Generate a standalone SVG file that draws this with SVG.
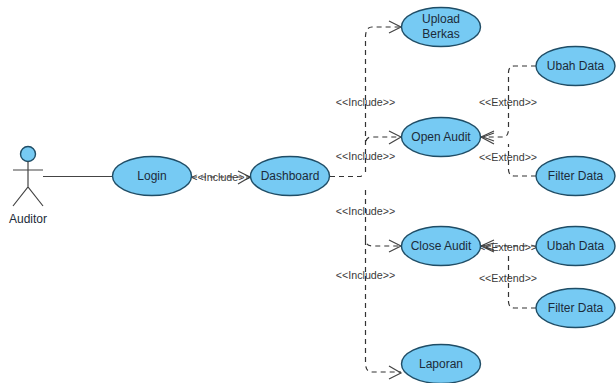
<svg xmlns="http://www.w3.org/2000/svg" width="616" height="383" viewBox="0 0 616 383">
<style>
text{font-family:"Liberation Sans",Arial,sans-serif;text-anchor:middle}
.n{font-size:12px;fill:#1c2b3a}
.l{font-size:10.700px;fill:#3a3a3a}
ellipse,.h{fill:#76caf3;stroke:#1f4d66;stroke-width:1.4}
.d{fill:none;stroke:#333;stroke-width:1.2;stroke-dasharray:5 4}
.a{fill:none;stroke:#444;stroke-width:1.2}
.s{fill:none;stroke:#444;stroke-width:1.2}
</style>
<g id="connectors">
<path class="s" d="M43 176.500H113"/>
<path class="d" d="M192 177H250"/><path class="a" d="M238 171L250 177L238 184"/>
<path class="d" d="M330 176.500H361L363 174"/>
<path class="d" d="M365.500 172V36Q366 27 372 27H401"/><path class="a" d="M389 21L401 27L389 33"/>
<path class="d" d="M366 141Q367 137 372 137H401"/><path class="a" d="M389 131L401 137L389 144"/>
<path class="d" d="M365.500 190V240Q366 246 372 246H401"/><path class="a" d="M389 240L401 246L389 252"/>
<path class="d" d="M365.500 240V364Q366 372 372 372H401"/><path class="a" d="M389 366L401 373L389 379"/>
<path class="d" d="M536 66H514Q509 66 508.500 72V130Q508 137 503 137H481"/><path class="a" d="M494 131L481 137L494 144"/>
<path class="d" d="M536 176H514Q509 176 508.500 170V144"/>
<path class="a" d="M494 133L483 137L494 141"/>
<path class="d" d="M536 246H481"/><path class="a" d="M494 240L481 246L494 252"/>
<path class="a" d="M494 243L483 246L494 250"/>
<path class="d" d="M536 308H514Q509 308 508.500 302V254"/>
<text class="l" x="365.500" y="106">&lt;&lt;Include&gt;&gt;</text>
<text class="l" x="365.500" y="160">&lt;&lt;Include&gt;&gt;</text>
<text class="l" x="365.500" y="215">&lt;&lt;Include&gt;&gt;</text>
<text class="l" x="365.500" y="279">&lt;&lt;Include&gt;&gt;</text>
<text class="l" x="221" y="181">&lt;&lt;Include&gt;&gt;</text>
<text class="l" x="508" y="106">&lt;&lt;Extend&gt;&gt;</text>
<text class="l" x="508" y="161">&lt;&lt;Extend&gt;&gt;</text>
<text class="l" x="508" y="251">&lt;&lt;Extend&gt;&gt;</text>
<text class="l" x="508" y="282">&lt;&lt;Extend&gt;&gt;</text>
</g>
<g id="auditor">
<circle class="h" cx="28" cy="154" r="7.500"/>
<path class="s" d="M28 161.500V187M13 170H43M13 206L28 187L43 206"/>
<text class="n" x="28" y="223">Auditor</text>
</g>
<g id="login"><ellipse cx="152" cy="176" rx="39.500" ry="19.500"/><text class="n" x="152" y="180">Login</text></g>
<g id="dashboard"><ellipse cx="290" cy="176" rx="39.500" ry="19.500"/><text class="n" x="290" y="180">Dashboard</text></g>
<g id="upload"><ellipse cx="441" cy="27" rx="39.500" ry="19.500"/><text class="n" x="441" y="23">Upload</text><text class="n" x="441" y="38">Berkas</text></g>
<g id="open"><ellipse cx="441" cy="137" rx="39.500" ry="19.500"/><text class="n" x="441" y="141">Open Audit</text></g>
<g id="close"><ellipse cx="441" cy="246" rx="39.500" ry="19.500"/><text class="n" x="441" y="250">Close Audit</text></g>
<g id="laporan"><ellipse cx="441" cy="364" rx="39.500" ry="19.500"/><text class="n" x="441" y="368">Laporan</text></g>
<g id="ubah1"><ellipse cx="575.500" cy="66" rx="39.500" ry="19.500"/><text class="n" x="575.500" y="70">Ubah Data</text></g>
<g id="filter1"><ellipse cx="575.500" cy="176" rx="39.500" ry="19.500"/><text class="n" x="575.500" y="180">Filter Data</text></g>
<g id="ubah2"><ellipse cx="575.500" cy="246" rx="39.500" ry="19.500"/><text class="n" x="575.500" y="250">Ubah Data</text></g>
<g id="filter2"><ellipse cx="575.500" cy="308" rx="39.500" ry="19.500"/><text class="n" x="575.500" y="312">Filter Data</text></g>
</svg>
